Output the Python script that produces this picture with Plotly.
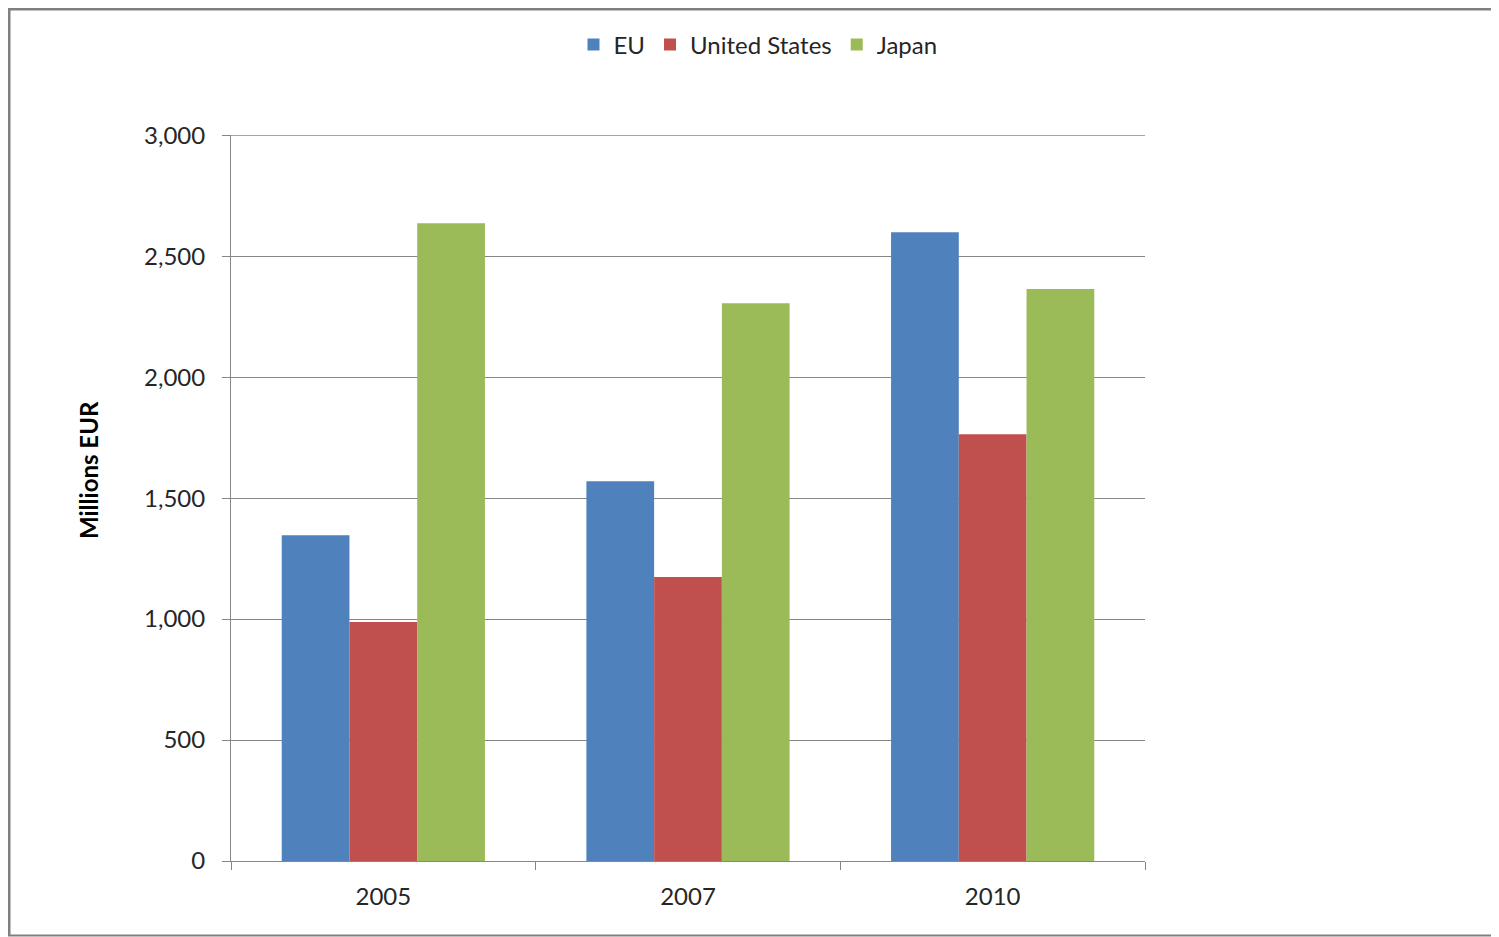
import plotly.graph_objects as go

years = ["2005", "2007", "2010"]
eu = [1347, 1570, 2599]
us = [988, 1174, 1764]
japan = [2636, 2306, 2364]
y_tick_vals = [0, 500, 1000, 1500, 2000, 2500, 3000]
y_tick_text = ["0", "500", "1,000", "1,500", "2,000", "2,500", "3,000"]

FONT = "Lato, 'Open Sans', sans-serif"
GRID = "#868686"
OFF = 8  # page body margin

fig = go.Figure()
fig.add_trace(go.Bar(name="EU", x=years, y=eu, marker=dict(color="#4F81BD", line=dict(width=0))))
fig.add_trace(go.Bar(name="United States", x=years, y=us, marker=dict(color="#C0504D", line=dict(width=0))))
fig.add_trace(go.Bar(name="Japan", x=years, y=japan, marker=dict(color="#9BBB59", line=dict(width=0))))

W, H = 1499 - OFF, 937 - OFF
L, R, T, B = 231 - OFF, 1145 - OFF, 135 - OFF, 861 - OFF

def px(x):
    return (x - OFF - L) / (R - L)

def py(y):
    return (B - (y - OFF)) / (B - T)

fig.update_layout(
    width=W, height=H,
    margin=dict(l=L, r=W - R, t=T, b=H - B, pad=0),
    paper_bgcolor="white", plot_bgcolor="white",
    barmode="group", bargap=0.333, bargroupgap=0,
    font=dict(family=FONT, size=24, color="#262626"),
    showlegend=True,
    legend=dict(orientation="h", x=px(758), y=py(45), xanchor="center", yanchor="middle",
                font=dict(family=FONT, size=24, color="#262626"),
                itemwidth=30, traceorder="normal", itemclick=False),
    xaxis=dict(type="category", showgrid=False, showline=True, linecolor=GRID, linewidth=1,
               ticks="outside", tickson="boundaries", ticklen=8, tickcolor=GRID,
               tickfont=dict(family=FONT, size=24, color="#262626"), ticklabelstandoff=14),
    yaxis=dict(range=[0, 3001], tickvals=y_tick_vals, ticktext=y_tick_text,
               showgrid=True, gridcolor=GRID, gridwidth=1, zeroline=False,
               showline=True, linecolor=GRID, linewidth=1,
               ticks="outside", ticklen=8, tickcolor=GRID,
               tickfont=dict(family=FONT, size=24, color="#262626"), ticklabelstandoff=12),
    annotations=[dict(text="<b>Millions EUR</b>", x=px(88), y=py(470), xref="paper", yref="paper",
                      textangle=-90, showarrow=False, xanchor="center", yanchor="middle",
                      font=dict(family=FONT, size=24, color="black"))],
    shapes=[
        dict(type="line", xref="paper", yref="y", x0=0, x1=1, y0=y_tick_vals[-1], y1=y_tick_vals[-1],
             line=dict(color=GRID, width=1), layer="below"),
        dict(type="line", xref="paper", yref="paper", x0=px(OFF), x1=px(1499), y0=py(OFF + 1), y1=py(OFF + 1),
             line=dict(color="#808080", width=3)),
        dict(type="line", xref="paper", yref="paper", x0=px(OFF + 1), x1=px(OFF + 1), y0=py(OFF), y1=py(935.5),
             line=dict(color="#808080", width=3)),
        dict(type="line", xref="paper", yref="paper", x0=px(OFF), x1=px(1499), y0=py(935.5), y1=py(935.5),
             line=dict(color="#808080", width=2)),
    ],
)

fig.write_html("out.html")
